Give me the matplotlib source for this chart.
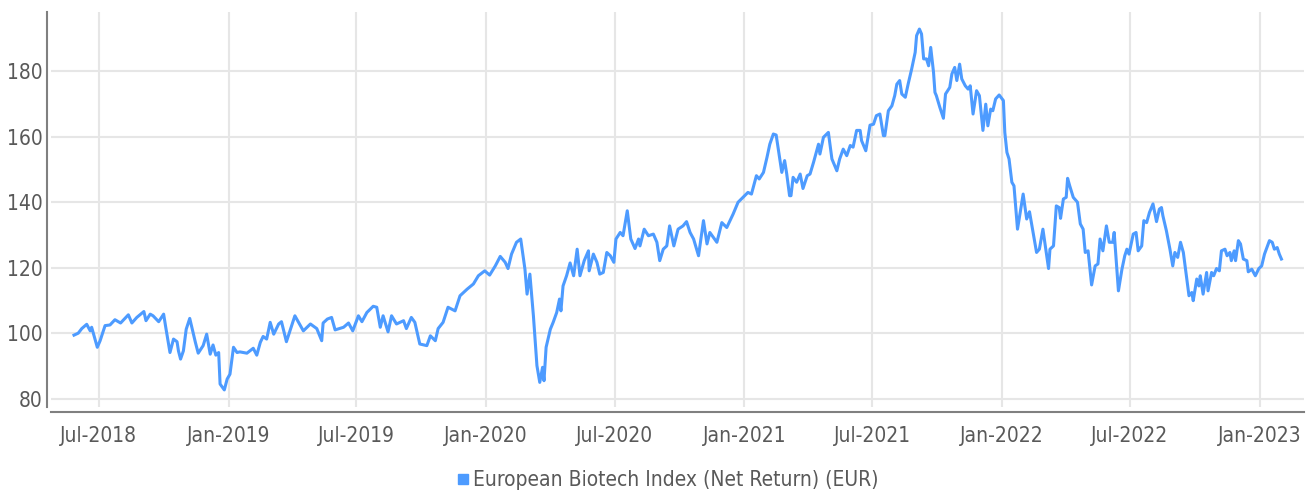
import pandas as pd
import matplotlib.pyplot as plt
import matplotlib.dates as mdates
from matplotlib.lines import Line2D

LINE_BLUE = "#4d9bff"
TEXT_GREY = "#595959"

# index level (EUR, rebased ~100 in mid 2018)
dates = [
    "2018-05-27", "2018-06-02", "2018-06-07", "2018-06-14", "2018-06-19", "2018-06-21",
    "2018-06-29", "2018-07-03", "2018-07-10", "2018-07-17", "2018-07-24", "2018-08-01",
    "2018-08-12", "2018-08-17", "2018-08-24", "2018-09-03", "2018-09-06", "2018-09-12",
    "2018-09-16", "2018-09-24", "2018-10-01", "2018-10-04", "2018-10-10", "2018-10-15",
    "2018-10-20", "2018-10-22", "2018-10-25", "2018-10-29", "2018-11-02", "2018-11-07",
    "2018-11-15", "2018-11-19", "2018-11-26", "2018-12-01", "2018-12-06", "2018-12-10",
    "2018-12-14", "2018-12-18", "2018-12-20", "2018-12-26", "2018-12-30", "2019-01-03",
    "2019-01-08", "2019-01-13", "2019-01-17", "2019-01-27", "2019-02-05", "2019-02-10",
    "2019-02-15", "2019-02-19", "2019-02-24", "2019-03-01", "2019-03-06", "2019-03-13",
    "2019-03-17", "2019-03-24", "2019-03-29", "2019-04-05", "2019-04-17", "2019-04-27",
    "2019-05-06", "2019-05-13", "2019-05-15", "2019-05-21", "2019-05-27", "2019-06-01",
    "2019-06-13", "2019-06-20", "2019-06-26", "2019-07-04", "2019-07-09", "2019-07-16",
    "2019-07-25", "2019-07-30", "2019-08-04", "2019-08-08", "2019-08-15", "2019-08-20",
    "2019-08-27", "2019-09-06", "2019-09-10", "2019-09-17", "2019-09-22", "2019-09-29",
    "2019-10-09", "2019-10-14", "2019-10-21", "2019-10-25", "2019-11-01", "2019-11-08",
    "2019-11-18", "2019-11-25", "2019-12-05", "2019-12-14", "2019-12-21", "2019-12-30",
    "2020-01-06", "2020-01-14", "2020-01-21", "2020-01-28", "2020-02-01", "2020-02-06",
    "2020-02-13", "2020-02-19", "2020-02-25", "2020-02-28", "2020-03-03", "2020-03-08",
    "2020-03-13", "2020-03-17", "2020-03-21", "2020-03-23", "2020-03-26", "2020-04-01",
    "2020-04-05", "2020-04-10", "2020-04-14", "2020-04-16", "2020-04-19", "2020-04-24",
    "2020-04-29", "2020-05-04", "2020-05-09", "2020-05-13", "2020-05-19", "2020-05-25",
    "2020-05-26", "2020-06-01", "2020-06-06", "2020-06-10", "2020-06-15", "2020-06-20",
    "2020-06-25", "2020-06-30", "2020-07-03", "2020-07-09", "2020-07-13", "2020-07-19",
    "2020-07-24", "2020-07-30", "2020-08-04", "2020-08-06", "2020-08-12", "2020-08-18",
    "2020-08-25", "2020-08-30", "2020-09-03", "2020-09-08", "2020-09-13", "2020-09-17",
    "2020-09-23", "2020-09-29", "2020-10-06", "2020-10-11", "2020-10-16", "2020-10-21",
    "2020-10-28", "2020-11-04", "2020-11-09", "2020-11-13", "2020-11-23", "2020-11-30",
    "2020-12-07", "2020-12-16", "2020-12-23", "2020-12-30", "2021-01-06", "2021-01-11",
    "2021-01-18", "2021-01-22", "2021-01-28", "2021-02-02", "2021-02-06", "2021-02-11",
    "2021-02-15", "2021-02-18", "2021-02-23", "2021-02-27", "2021-03-02", "2021-03-06",
    "2021-03-08", "2021-03-11", "2021-03-16", "2021-03-21", "2021-03-25", "2021-03-31",
    "2021-04-04", "2021-04-09", "2021-04-16", "2021-04-18", "2021-04-23", "2021-04-30",
    "2021-05-05", "2021-05-12", "2021-05-16", "2021-05-21", "2021-05-26", "2021-05-31",
    "2021-06-04", "2021-06-09", "2021-06-14", "2021-06-16", "2021-06-22", "2021-06-28",
    "2021-07-03", "2021-07-07", "2021-07-12", "2021-07-17", "2021-07-19", "2021-07-24",
    "2021-07-29", "2021-08-02", "2021-08-05", "2021-08-09", "2021-08-12", "2021-08-17",
    "2021-08-21", "2021-08-26", "2021-08-31", "2021-09-02", "2021-09-06", "2021-09-09",
    "2021-09-12", "2021-09-16", "2021-09-19", "2021-09-22", "2021-09-26", "2021-09-28",
    "2021-09-30", "2021-10-05", "2021-10-10", "2021-10-13", "2021-10-19", "2021-10-22",
    "2021-10-26", "2021-10-29", "2021-11-02", "2021-11-05", "2021-11-10", "2021-11-14",
    "2021-11-17", "2021-11-21", "2021-11-26", "2021-11-30", "2021-12-05", "2021-12-09",
    "2021-12-12", "2021-12-16", "2021-12-19", "2021-12-23", "2021-12-28", "2022-01-03",
    "2022-01-05", "2022-01-08", "2022-01-11", "2022-01-15", "2022-01-18", "2022-01-23",
    "2022-01-31", "2022-02-05", "2022-02-09", "2022-02-14", "2022-02-19", "2022-02-23",
    "2022-02-28", "2022-03-04", "2022-03-08", "2022-03-10", "2022-03-15", "2022-03-19",
    "2022-03-23", "2022-03-25", "2022-03-29", "2022-04-02", "2022-04-04", "2022-04-07",
    "2022-04-12", "2022-04-18", "2022-04-22", "2022-04-26", "2022-04-29", "2022-05-03",
    "2022-05-08", "2022-05-13", "2022-05-17", "2022-05-20", "2022-05-24", "2022-05-29",
    "2022-06-02", "2022-06-07", "2022-06-09", "2022-06-15", "2022-06-20", "2022-06-24",
    "2022-06-27", "2022-06-30", "2022-07-06", "2022-07-10", "2022-07-13", "2022-07-18",
    "2022-07-21", "2022-07-25", "2022-07-29", "2022-08-03", "2022-08-08", "2022-08-12",
    "2022-08-15", "2022-08-17", "2022-08-22", "2022-08-27", "2022-08-31", "2022-09-03",
    "2022-09-07", "2022-09-11", "2022-09-15", "2022-09-19", "2022-09-23", "2022-09-27",
    "2022-09-29", "2022-10-04", "2022-10-07", "2022-10-09", "2022-10-13", "2022-10-18",
    "2022-10-20", "2022-10-25", "2022-10-28", "2022-11-01", "2022-11-05", "2022-11-08",
    "2022-11-13", "2022-11-16", "2022-11-20", "2022-11-22", "2022-11-26", "2022-11-28",
    "2022-12-02", "2022-12-05", "2022-12-09", "2022-12-14", "2022-12-16", "2022-12-21",
    "2022-12-26", "2022-12-31", "2023-01-04", "2023-01-08", "2023-01-15", "2023-01-19",
    "2023-01-22", "2023-01-26", "2023-01-29", "2023-02-01",
]

index_values = [
    99.5, 100.1, 101.5, 102.8, 100.8, 101.9,
    95.8, 97.8, 102.4, 102.6, 104.2, 103.2,
    105.7, 103.2, 104.9, 106.7, 103.9, 105.9,
    105.4, 103.6, 105.9, 101.9, 94.2, 98.3,
    97.5, 94.7, 92.2, 94.7, 101.3, 104.6,
    97.3, 94.0, 96.3, 99.8, 93.7, 96.5,
    93.4, 94.2, 84.6, 82.8, 86.1, 87.6,
    95.8, 94.2, 94.4, 94.0, 95.5, 93.4,
    97.3, 99.1, 98.3, 103.4, 99.8, 102.9,
    103.6, 97.5, 100.8, 105.4, 100.8, 102.9,
    101.5, 97.8, 103.2, 104.4, 104.9, 101.1,
    101.9, 103.2, 100.8, 105.4, 103.6, 106.4,
    108.3, 108.0, 101.9, 105.4, 100.5, 105.4,
    102.9, 103.9, 101.5, 104.9, 103.4, 96.8,
    96.3, 99.3, 97.8, 101.5, 103.4, 108.0,
    106.9, 111.5, 113.5, 115.1, 117.6, 119.1,
    117.8, 120.6, 123.5, 121.7, 119.8, 124.2,
    127.8, 128.8, 119.6, 112.0, 118.1, 105.4,
    90.2, 85.1, 89.7, 85.6, 95.8, 101.3,
    103.4, 106.4, 110.5, 106.9, 114.5, 117.6,
    121.5, 117.6, 125.7, 117.6, 122.2, 125.2,
    119.1, 124.2, 121.7, 118.1, 118.6, 124.7,
    123.7, 121.7, 128.8, 130.8, 129.8, 137.4,
    128.8, 125.9, 128.8, 126.7, 131.8, 129.8,
    130.3, 127.8, 122.2, 125.7, 126.7, 132.8,
    126.7, 131.8, 132.8, 134.1, 130.8, 128.8,
    123.7, 134.4, 127.3, 130.8, 127.8, 133.8,
    132.3, 136.4, 140.0, 141.5, 143.0, 142.5,
    148.1, 147.1, 149.1, 153.7, 157.7, 160.8,
    160.5, 156.2, 149.1, 152.7, 148.6, 142.0,
    142.0, 147.6, 146.1, 148.6, 144.2, 148.1,
    148.6, 152.2, 157.7, 154.7, 159.8, 161.3,
    153.2, 149.6, 153.2, 156.2, 154.2, 157.3,
    156.8, 161.9, 161.9, 158.8, 155.7, 163.5,
    163.8, 166.4, 166.9, 160.3, 160.3, 167.9,
    169.4, 172.5, 176.0, 177.1, 173.0, 172.0,
    176.0, 180.6, 185.7, 190.8, 192.8, 191.3,
    183.7, 183.7, 181.6, 187.2, 179.6, 173.5,
    172.5, 168.9, 165.6, 173.0, 175.0, 179.1,
    181.1, 177.1, 182.1, 177.6, 175.5, 174.5,
    175.5, 166.9, 174.0, 172.5, 161.9, 169.9,
    163.3, 168.4, 167.9, 171.5, 172.7, 171.0,
    161.3, 155.2, 153.2, 146.1, 145.0, 131.8,
    142.5, 134.9, 137.1, 130.8, 124.7, 125.7,
    131.8, 125.7, 119.8, 125.7, 126.7, 138.9,
    138.4, 135.1, 141.0, 141.5, 147.3, 145.0,
    141.5, 140.0, 133.4, 131.8, 124.7, 125.2,
    114.8, 120.6, 121.2, 128.8, 125.2, 132.8,
    127.8, 127.8, 130.8, 113.0, 119.6, 123.7,
    125.7, 124.2, 130.3, 130.8, 125.2, 126.7,
    134.4, 133.8, 136.9, 139.5, 134.1, 137.9,
    138.4, 135.9, 131.3, 125.7, 120.6, 124.7,
    123.2, 127.8, 124.7, 118.1, 111.5, 112.5,
    110.0, 116.6, 114.5, 117.6, 112.0, 118.6,
    113.0, 118.6, 117.6, 119.8, 119.1, 125.2,
    125.7, 123.7, 124.7, 122.2, 125.2, 122.2,
    128.3, 127.3, 122.7, 122.2, 118.8, 119.6,
    117.6, 119.8, 120.6, 124.2, 128.3, 127.8,
    125.7, 126.2, 124.2, 122.7,
]

y_ticks = [80, 100, 120, 140, 160, 180]
series_label = "European Biotech Index (Net Return) (EUR)"

# the original uses a light condensed face; DejaVu Sans Condensed is the closest one here
plt.rcParams["font.family"] = ["DejaVu Sans"]
plt.rcParams["font.stretch"] = "condensed"

df = pd.DataFrame({"Date": pd.to_datetime(dates), "Index": index_values}).set_index("Date")

fig = plt.figure(figsize=(13.14, 4.95), dpi=100)
ax = fig.add_axes([0.0386, 0.1778, 0.9538, 0.798])

ax.plot(df.index, df["Index"], color=LINE_BLUE, linewidth=2.2, solid_joinstyle="round")

ax.set_xlim(pd.Timestamp("2018-04-24"), pd.Timestamp("2023-03-05"))
ax.set_ylim(77.6, 198)
ax.set_yticks(y_ticks)
ax.xaxis.set_major_locator(mdates.MonthLocator(bymonth=[1, 7]))
ax.xaxis.set_major_formatter(mdates.DateFormatter("%b-%Y"))

ax.grid(True, color="#e6e6e6", linewidth=1.5)
ax.set_axisbelow(True)

for side in ["top", "right"]:
    ax.spines[side].set_visible(False)
ax.spines["left"].set_position(("outward", 2.6))
ax.spines["bottom"].set_position(("outward", 3.4))
for side in ["left", "bottom"]:
    ax.spines[side].set_color("#808080")
    ax.spines[side].set_linewidth(1.5)

ax.tick_params(axis="both", length=0, labelsize=15, labelcolor=TEXT_GREY)
ax.tick_params(axis="y", pad=3)
ax.tick_params(axis="x", pad=10)

handle = Line2D([], [], marker="s", linestyle="none", color=LINE_BLUE, markersize=6.5)
fig.legend(
    [handle],
    [series_label],
    loc="center",
    bbox_to_anchor=(0.508, 0.03),
    frameon=False,
    fontsize=15,
    labelcolor=TEXT_GREY,
    handlelength=0.6,
    handletextpad=0.15,
)

fig.savefig("out.png", dpi=100)
